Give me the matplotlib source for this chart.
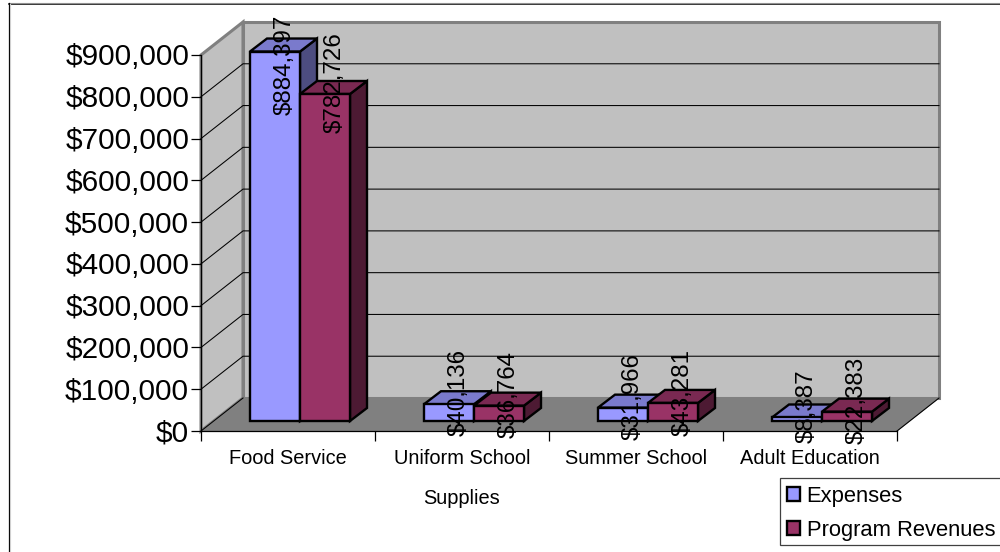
#!/usr/bin/env python3
import matplotlib

matplotlib.use("Agg")
import matplotlib.pyplot as plt
import numpy as np
from matplotlib.lines import Line2D
from matplotlib.patches import Patch, Polygon, Rectangle
from matplotlib.transforms import ScaledTranslation, offset_copy

CATEGORIES = ["Food Service", "Uniform School", "Summer School", "Adult Education"]
SERIES_NAMES = ["Expenses", "Program Revenues"]
EXPENSES = [884397, 40136, 31966, 8387]
REVENUES = [782726, 36764, 43281, 22383]
Y_TICKS = [0, 100000, 200000, 300000, 400000, 500000, 600000, 700000, 800000, 900000]

# pixel geometry of the fake 3d box
FIG_W, FIG_H = 1000, 552
LEFT_PX, RIGHT_PX = 201, 897
BASE_PX, TOP_PX = 431, 55
DEPTH_X, DEPTH_Y = 42, 33
BAR_DX, BAR_DY = 17, 13
BAR_W = 50
BAR_START = 49
BAR_LIFT = 10
LABEL_LIFT = [[-13.5, 11.5, 11.5, 11.5], [11.5, 11.5, 10.5, 11.5]]

FRONTS = ["#9999ff", "#993366"]
TOPS = ["#7a7acc", "#7a2952"]
SIDES = ["#4d4d80", "#4d1a33"]
FONT = "Liberation Sans"


def main() -> None:
    plt.rcParams["font.family"] = FONT
    fig = plt.figure(figsize=(FIG_W / 100, FIG_H / 100), dpi=100)
    ax = fig.add_axes(
        [
            LEFT_PX / FIG_W,
            (FIG_H - BASE_PX) / FIG_H,
            (RIGHT_PX - LEFT_PX) / FIG_W,
            (BASE_PX - TOP_PX) / FIG_H,
        ]
    )
    ax.patch.set_visible(False)
    ax.set_xlim(0, len(CATEGORIES))
    ax.set_ylim(0, 900000)

    cat_px = (RIGHT_PX - LEFT_PX) / len(CATEGORIES)
    val_px = (BASE_PX - TOP_PX) / 900000
    dx = 1 / cat_px  # one pixel in data units
    dy = 1 / val_px
    depth_x, depth_y = DEPTH_X * dx, DEPTH_Y * dy
    n_cat = len(CATEGORIES)
    y_max = Y_TICKS[-1]

    wall_kw = dict(clip_on=False, joinstyle="miter")
    ax.add_patch(
        Polygon(
            [(0, 0), (depth_x, depth_y), (depth_x, y_max + depth_y), (0, y_max)],
            facecolor="#c0c0c0", edgecolor="#808080", linewidth=2.2, zorder=1, **wall_kw,
        )
    )
    ax.add_patch(
        Polygon(
            [
                (depth_x, depth_y),
                (n_cat + depth_x, depth_y),
                (n_cat + depth_x, y_max + depth_y),
                (depth_x, y_max + depth_y),
            ],
            facecolor="#c0c0c0", edgecolor="#808080", linewidth=2.2, zorder=1, **wall_kw,
        )
    )
    ax.add_patch(
        Polygon(
            [(0, 0), (n_cat, 0), (n_cat + depth_x, depth_y), (depth_x, depth_y)],
            facecolor="#808080", edgecolor="#808080", linewidth=0.8, zorder=1.1, **wall_kw,
        )
    )
    # floor front and side edges are dark in the original
    ax.plot([n_cat, n_cat + depth_x], [0, depth_y], color="black", linewidth=0.75, zorder=1.5, clip_on=False)
    ax.plot([0, depth_x], [0, depth_y], color="black", linewidth=0.75, zorder=1.5, clip_on=False)

    for tick in Y_TICKS[1:-1]:
        ax.plot(
            [0, depth_x, n_cat + depth_x],
            [tick, tick + depth_y, tick + depth_y],
            color="black", linewidth=0.75, zorder=1.5, clip_on=False,
        )

    all_series = [EXPENSES, REVENUES]
    for i_cat in range(n_cat):
        for i_ser, values in enumerate(all_series):
            value = values[i_cat]
            x0 = i_cat + (BAR_START + i_ser * BAR_W) * dx
            x1 = x0 + BAR_W * dx
            y0 = BAR_LIFT * dy
            y1 = y0 + value
            off_x, off_y = BAR_DX * dx, BAR_DY * dy
            edge = dict(edgecolor="black", linewidth=1.7, clip_on=False, joinstyle="miter", zorder=3 + i_cat + i_ser * 0.1)
            ax.add_patch(Polygon(
                [(x1, y0), (x1 + off_x, y0 + off_y), (x1 + off_x, y1 + off_y), (x1, y1)],
                facecolor=SIDES[i_ser], **edge,
            ))
            ax.add_patch(Polygon(
                [(x0, y1), (x1, y1), (x1 + off_x, y1 + off_y), (x0 + off_x, y1 + off_y)],
                facecolor=TOPS[i_ser], **edge,
            ))
            ax.add_patch(Rectangle((x0, y0), x1 - x0, value, facecolor=FRONTS[i_ser], **edge))

    for i_cat in range(n_cat):
        for i_ser, values in enumerate(all_series):
            value = values[i_cat]
            x0 = i_cat + (BAR_START + i_ser * BAR_W + 35) * dx
            y1 = BAR_LIFT * dy + value
            trans = offset_copy(ax.transData, fig=fig, x=0, y=LABEL_LIFT[i_ser][i_cat], units="dots")
            ax.text(
                x0, y1, f"${value:,}", transform=trans, rotation=90,
                ha="center", va="center", fontsize=17.4, color="black", zorder=20, clip_on=False,
            )

    for side in ["top", "right"]:
        ax.spines[side].set_visible(False)
    ax.spines["left"].set_linewidth(0.9)
    ax.spines["bottom"].set_linewidth(0.9)
    ax.spines["left"].set_zorder(2)
    ax.spines["bottom"].set_zorder(2)

    ax.set_yticks(Y_TICKS)
    ax.set_yticklabels([f"${t:,}" for t in Y_TICKS], fontsize=21.4)
    ax.tick_params(axis="y", length=7, width=0.9, pad=1.6)
    up = ScaledTranslation(0, 0.6 / 100, fig.dpi_scale_trans)
    for label in ax.get_yticklabels():
        label.set_transform(label.get_transform() + up)
    ax.set_xticks(np.arange(n_cat + 1))
    ax.set_xticklabels([""] * (n_cat + 1))
    ax.tick_params(axis="x", length=7, width=0.9)
    for i_cat, name in enumerate(CATEGORIES):
        ax.text(i_cat + 0.5, -27 * dy, name, ha="center", va="center", fontsize=14.4, clip_on=False)
    ax.text(1.5, -68 * dy, "Supplies", ha="center", va="center", fontsize=14.4, clip_on=False)

    # legend box is cut by the image edge, so it is drawn on its own
    fig.add_artist(Rectangle(
        (779.5 / FIG_W, (FIG_H - 544.5) / FIG_H), 1, 67 / FIG_H,
        transform=fig.transFigure, facecolor="white", edgecolor="#404040", linewidth=0.9,
    ))
    handles = [
        Patch(facecolor=FRONTS[0], edgecolor="black", linewidth=1.7, label=SERIES_NAMES[0]),
        Patch(facecolor=FRONTS[1], edgecolor="black", linewidth=1.7, label=SERIES_NAMES[1]),
    ]
    fig.legend(
        handles=handles,
        loc="upper left",
        bbox_to_anchor=(777 / FIG_W, (FIG_H - 476) / FIG_H),
        bbox_transform=fig.transFigure,
        fontsize=15.8,
        frameon=False,
        handlelength=0.62,
        handleheight=0.62,
        handletextpad=0.28,
        labelspacing=0.6,
        borderaxespad=0,
        borderpad=0.45,
    )

    # outer chart border: only top and left fall inside the image
    for xs, ys, color, width in [
        ([8.5, FIG_W], [3.5, 3.5], "black", 1.1),
        ([8.5, FIG_W], [2.5, 2.5], "#909090", 0.8),
        ([8.5, 8.5], [3, FIG_H], "black", 0.9),
        ([9.8, 9.8], [4, FIG_H], "#d0d0d0", 0.8),
    ]:
        fig.add_artist(Line2D(
            [x / FIG_W for x in xs], [(FIG_H - y) / FIG_H for y in ys],
            color=color, linewidth=width, transform=fig.transFigure,
        ))

    fig.savefig("out.png", dpi=100)
    plt.close(fig)


if __name__ == "__main__":
    main()
